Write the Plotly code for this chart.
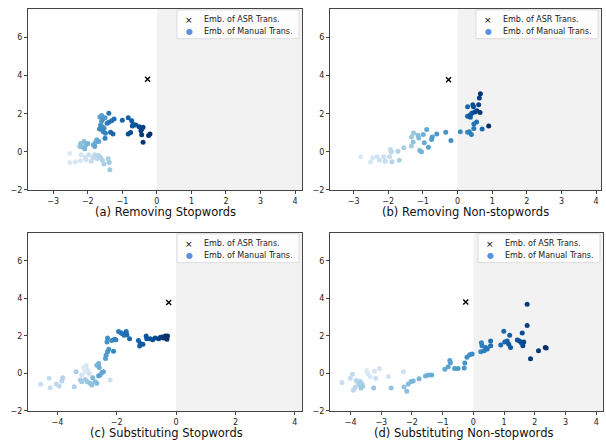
import plotly.graph_objects as go

# ---------------- data ----------------
# Panel (a) Removing Stopwords (ordered light -> dark)
a_x = [-2.52, -2.52, -2.36, -2.21, -2.19, -2.07, -2.05, -1.97, -1.90, -1.85, -1.80, -1.73, -1.73, -1.68, -1.63, -1.58, -1.53, -1.41, -1.38, -1.36,
       -2.23, -2.21, -2.17, -2.11, -2.05, -2.09, -2.00, -1.84, -1.78, -1.74, -1.68, -1.80,
       -1.65, -1.60, -1.56, -1.50, -1.60, -1.63, -1.58, -1.53, -1.66, -1.56, -1.49, -1.50, -1.44, -1.39, -1.39, -1.31, -1.24, -1.34, -1.27,
       -1.00, -0.83, -0.73, -0.69, -0.71, -0.61, -0.83, -0.76, -0.51, -0.44, -0.40, -0.46, -0.44, -0.40, -0.24, -0.20]
a_y = [-0.09, -0.56, -0.54, -0.47, -0.16, -0.28, -0.42, -0.16, -0.50, -0.30, -0.16, -0.37, -0.19, -0.21, -0.30, -0.45, -0.64, -0.37, -0.56, -0.94,
       0.28, 0.43, 0.26, 0.54, 0.37, 0.16, 0.43, 0.37, 0.49, 0.63, 0.54, 0.28,
       1.83, 1.90, 1.72, 1.79, 1.62, 1.41, 1.32, 1.23, 1.20, 1.06, 0.97, 0.71, 1.50, 2.02, 1.55, 1.63, 1.72, 1.03, 0.94,
       1.65, 1.79, 1.63, 1.44, 1.36, 1.41, 0.94, 1.01, 1.32, 1.20, 1.29, 1.11, 0.89, 0.50, 0.85, 0.94]

# Panel (b) Removing Non-stopwords
b_x = [-2.79, -2.51, -2.45, -2.32, -2.25, -2.13, -2.09, -1.96, -1.94, -1.91, -1.89, -1.72, -1.68, -1.55,
       -1.33, -1.33, -1.27, -1.28, -1.14, -1.12, -1.09, -1.04, -0.99, -0.96, -0.89, -0.84, -0.75, -0.73, -0.60, -0.34, -0.19,
       0.08, 0.29, 0.34, 0.40, 0.47, 0.47, 0.55, 0.71,
       0.29, 0.29, 0.37, 0.37, 0.42, 0.44, 0.46, 0.50, 0.56, 0.61, 0.63, 0.65, 0.66, 0.90]
b_y = [-0.26, -0.54, -0.31, -0.26, -0.44, -0.26, -0.49, -0.26, 0.12, 0.00, -0.52, 0.03, -0.44, 0.21,
       0.30, 0.77, 0.99, 0.52, 0.87, 0.73, 0.07, 0.00, 0.91, 0.47, 1.17, 0.24, 0.64, 0.77, 0.94, 1.03, 0.59,
       1.05, 1.03, 1.05, 0.91, 1.22, 1.46, 1.57, 1.20,
       2.37, 1.86, 1.95, 1.81, 2.04, 2.47, 2.37, 2.09, 2.16, 2.47, 2.82, 2.06, 3.05, 1.36]

# Panel (c) Substituting Stopwords
c_x = [-3.12, -3.06, -2.99, -3.03, -3.18, -2.92, -2.22,
       -4.56, -4.28, -4.24, -4.04, -3.94, -3.85, -3.82, -3.43, -3.37,
       -3.23, -3.18, -3.06, -2.99, -2.90, -2.84, -2.73, -2.67, -2.81,
       -2.67, -2.61, -2.59, -2.56, -2.50, -2.45, -2.61,
       -2.38, -2.36, -2.31, -2.27, -2.33, -2.31, -2.17, -2.11, -2.08, -2.03, -1.94, -1.86, -1.81, -1.75, -1.68, -1.66, -1.57,
       -1.27, -1.23, -1.21, -1.12, -1.01, -0.99, -0.88, -0.79, -0.71, -0.59, -0.54, -0.48, -0.43, -0.37, -0.31, -0.29]
c_y = [0.30, 0.09, 0.18, 0.41, -0.09, 0.00, -0.35,
       -0.58, -0.26, -0.76, -0.56, -0.67, -0.41, -0.23, -0.71, 0.09,
       -0.35, -0.44, -0.32, -0.44, -0.53, -0.62, -0.44, -0.53, -0.23,
       0.44, 0.53, 0.32, -0.09, 0.05, 0.09, -0.12,
       0.79, 0.97, 1.15, 1.29, 1.68, 1.89, 1.76, 1.18, 1.82, 1.80, 2.24, 2.17, 2.12, 2.03, 2.24, 2.06, 1.85,
       1.76, 1.46, 1.59, 1.55, 1.99, 1.85, 1.85, 1.80, 1.89, 1.85, 1.92, 1.94, 1.89, 1.99, 1.82, 1.99]

# Panel (d) Substituting Non-stopwords
d_x = [-3.47, -3.44, -3.36, -3.22, -3.06, -2.77, -2.28, -3.18,
       -4.28, -4.01, -3.94, -3.91, -3.85, -3.82, -3.76, -3.72, -3.69, -3.63, -3.60, -3.66, -3.25, -2.68,
       -2.26, -2.17, -2.12, -2.03, -1.96, -1.77, -1.56, -1.47, -1.36, -0.93, -0.82, -0.77, -0.75, -0.61, -0.50, -0.30, -0.28, -0.21, -0.12, -0.04,
       0.24, 0.26, 0.28, 0.35, 0.40, 0.45, 0.56, 0.56, 0.89,
       0.99, 1.02, 1.10, 1.18, 1.15, 1.21, 1.43, 1.50, 1.56, 1.59, 1.61, 1.64, 1.75, 1.75, 1.86, 2.12, 2.34, 2.37]
d_y = [0.16, 0.00, -0.17, 0.12, 0.26, -0.17, 0.09, -0.26,
       -0.48, -0.26, -0.05, -0.90, -0.74, -0.38, -0.48, -0.61, -0.43, -0.57, -0.69, -0.78, -0.78, -0.78,
       -0.73, -0.95, -0.57, -0.43, -0.40, -0.29, -0.14, -0.09, -0.09, 0.22, 0.35, 0.69, 0.57, 0.26, 0.26, 0.29, 0.55, 0.86, 0.99, 1.04,
       1.16, 1.64, 1.47, 1.21, 1.38, 1.30, 1.73, 1.47, 1.51,
       2.25, 1.68, 1.73, 2.04, 1.56, 1.38, 1.78, 1.73, 1.64, 2.16, 1.47, 1.68, 2.56, 3.69, 0.78, 1.21, 1.38, 1.35]

# ASR transcription embeddings
asr_x = [-0.27, -0.26, -0.25, -0.25]
asr_y = [3.81, 3.78, 3.79, 3.81]

titles = ["(a) Removing Stopwords", "(b) Removing Non-stopwords",
          "(c) Substituting Stopwords", "(d) Substituting Non-stopwords"]
legend_labels = ["Emb. of ASR Trans.", "Emb. of Manual Trans."]
legend_symbols = ["×", "●"]
legend_colors = ["#000000", "#5b8fe0"]

x_ranges = [[-3.73, 4.2], [-3.68, 4.14], [-4.99, 4.24], [-4.67, 4.22]]
x_ticks = [[-3, -2, -1, 0, 1, 2, 3, 4], [-3, -2, -1, 0, 1, 2, 3, 4],
           [-4, -2, 0, 2, 4], [-4, -3, -2, -1, 0, 1, 2, 3, 4]]
y_range = [-2.02, 7.5]
y_ticks = [-2, 0, 2, 4, 6]

# ---------------- layout geometry (px) ----------------
W, H = 606, 444
boxes = [  # left, right, top, bottom in px
    (28, 302, 9, 192),
    (330, 601, 9, 192),
    (28, 302, 235, 415),
    (330, 603, 235, 415),
]
title_pos = [(165, 214), (465, 214), (166, 437), (463, 437)]

blues = [[0.0, "#f7fbff"], [0.125, "#deebf7"], [0.25, "#c6dbef"], [0.375, "#9ecae1"],
         [0.5, "#6baed6"], [0.625, "#4292c6"], [0.75, "#2171b5"], [0.875, "#08519c"],
         [1.0, "#08306b"]]

fig = go.Figure()
font_family = "DejaVu Sans"
panels = [(a_x, a_y), (b_x, b_y), (c_x, c_y), (d_x, d_y)]


def px_x(v):
    return v / W


def px_y(v):
    return 1 - v / H


for i, (px_, py_) in enumerate(panels):
    n = i + 1
    xa = "x" if n == 1 else f"x{n}"
    ya = "y" if n == 1 else f"y{n}"
    cnt = len(px_)
    order = list(range(cnt))
    fig.add_trace(go.Scatter(
        x=px_, y=py_, mode="markers", xaxis=xa, yaxis=ya, showlegend=False,
        name=legend_labels[1],
        marker=dict(size=5, color=order, colorscale=blues,
                    cmin=-0.15 * (cnt - 1), cmax=cnt - 1, line=dict(width=0))))
    fig.add_trace(go.Scatter(
        x=[asr_x[i]], y=[asr_y[i]], mode="markers", xaxis=xa, yaxis=ya,
        marker=dict(symbol="x-thin", size=5, line=dict(width=1.4, color="black"), color="black"),
        name=legend_labels[0], showlegend=False))

    l, r, t, b = boxes[i]
    axis_common = dict(showline=True, mirror=True, linecolor="#444", linewidth=1,
                       ticks="outside", ticklen=3, tickwidth=0.8, tickcolor="#444",
                       showgrid=False, zeroline=False,
                       tickfont=dict(family=font_family, size=8, color="#222"))
    fig.layout[f"xaxis{'' if n == 1 else n}"] = dict(
        domain=[l / W, r / W], range=x_ranges[i], tickvals=x_ticks[i],
        anchor=ya, **axis_common)
    fig.layout[f"yaxis{'' if n == 1 else n}"] = dict(
        domain=[1 - b / H, 1 - t / H], range=y_range, tickvals=y_ticks,
        anchor=xa, **axis_common)
    # shaded region x > 0
    fig.add_shape(type="rect", xref=xa, yref=f"{ya} domain",
                  x0=0, x1=x_ranges[i][1], y0=0, y1=1,
                  fillcolor="#f2f2f2", line=dict(width=0), layer="below")
    # legend box (matplotlib style)
    lx1 = r - 3
    lx0 = lx1 - 122
    ly0 = t + 1
    ly1 = t + 30
    fig.add_shape(type="rect", xref="paper", yref="paper",
                  x0=px_x(lx0), x1=px_x(lx1), y0=px_y(ly1), y1=px_y(ly0),
                  fillcolor="rgba(255,255,255,0.85)", line=dict(width=0.8, color="#d5d5d5"),
                  layer="above")
    for k in range(2):
        rowy = ly0 + 10 + k * 11.5
        fig.add_annotation(text=legend_symbols[k], x=px_x(lx0 + 12), y=px_y(rowy),
                           xref="paper", yref="paper", showarrow=False,
                           xanchor="center", yanchor="middle",
                           font=dict(family=font_family, size=9 if k == 0 else 8,
                                     color=legend_colors[k]))
        fig.add_annotation(text=legend_labels[k], x=px_x(lx0 + 25), y=px_y(rowy),
                           xref="paper", yref="paper", showarrow=False,
                           xanchor="left", yanchor="middle",
                           font=dict(family=font_family, size=8, color="#222"))
    tx, ty = title_pos[i]
    fig.add_annotation(text=titles[i], x=tx / W, y=1 - ty / H, xref="paper", yref="paper",
                       showarrow=False, xanchor="center", yanchor="middle",
                       font=dict(family=font_family, size=11.5, color="#111"))

fig.update_layout(width=W, height=H, margin=dict(l=0, r=0, t=0, b=0),
                  paper_bgcolor="white", plot_bgcolor="white", showlegend=False,
                  font=dict(family=font_family))
fig.write_html("out.html", config={"displayModeBar": False},
               post_script="document.body.style.margin='0';document.body.style.overflow='hidden';")
